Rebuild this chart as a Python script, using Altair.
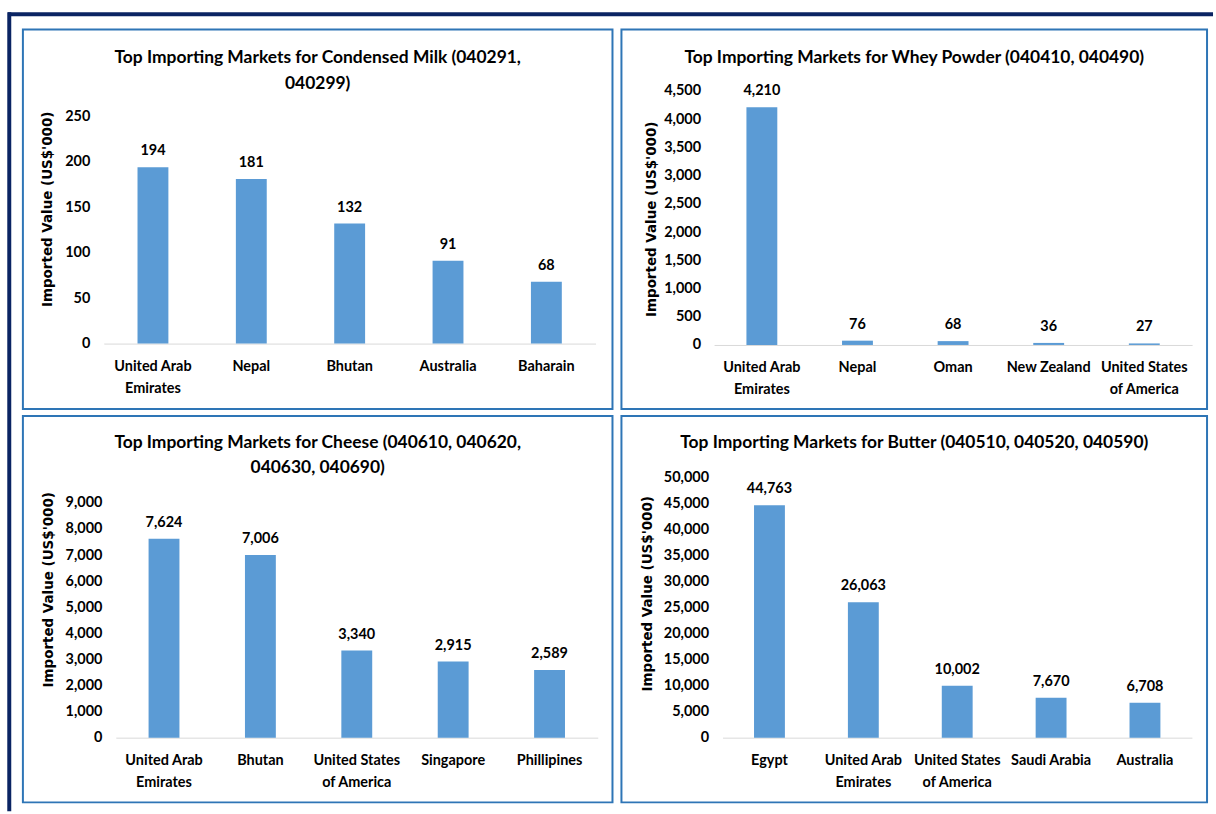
import altair as alt
import pandas as pd

# ---------------- data ----------------
milk_markets = ["United Arab Emirates", "Nepal", "Bhutan", "Australia", "Baharain"]
milk_values = [194, 181, 132, 91, 68]
milk_ticks = [0, 50, 100, 150, 200, 250]

whey_markets = ["United Arab Emirates", "Nepal", "Oman", "New Zealand", "United States of America"]
whey_values = [4210, 76, 68, 36, 27]
whey_ticks = [0, 500, 1000, 1500, 2000, 2500, 3000, 3500, 4000, 4500]

cheese_markets = ["United Arab Emirates", "Bhutan", "United States of America", "Singapore", "Phillipines"]
cheese_values = [7624, 7006, 3340, 2915, 2589]
cheese_ticks = [0, 1000, 2000, 3000, 4000, 5000, 6000, 7000, 8000, 9000]

butter_markets = ["Egypt", "United Arab Emirates", "United States of America", "Saudi Arabia", "Australia"]
butter_values = [44763, 26063, 10002, 7670, 6708]
butter_ticks = [0, 5000, 10000, 15000, 20000, 25000, 30000, 35000, 40000, 45000, 50000]

milk_title = ["Top Importing Markets for Condensed Milk (040291,", "040299)"]
whey_title = ["Top Importing Markets for Whey Powder (040410, 040490)"]
cheese_title = ["Top Importing Markets for Cheese (040610, 040620,", "040630, 040690)"]
butter_title = ["Top Importing Markets for Butter (040510, 040520, 040590)"]

y_title = "Imported Value (US$'000)"

# ---------------- style ----------------
FONT = "Lato"
BAR = "#5B9BD5"
PANEL = "#2E75B6"
NAVY = "#0A2463"

LABEL_EXPR = ("datum.label == 'United Arab Emirates' ? ['United Arab', 'Emirates'] : "
              "datum.label == 'United States of America' ? ['United States', 'of America'] : datum.label")


def panel(markets, values, ticks, title_lines, w, h, xr, yr, lab_right,
          ytx, yty, title_offset, extra=None):
    df = pd.DataFrame({"market": markets, "value": values})
    step = (xr[1] - xr[0]) / len(markets)
    pin = 1 - 31.0 / step
    x = alt.X(
        "market:N", sort=markets,
        scale=alt.Scale(range=xr, paddingInner=pin, paddingOuter=pin / 2),
        axis=alt.Axis(title=None, orient="bottom", offset=-(h - yr[0]), labelAngle=0,
                      ticks=False, tickSize=0, labelPadding=16, labelFont=FONT,
                      labelFontSize=14.5, labelFontWeight="bold", labelColor="black",
                      labelLineHeight=22, labelExpr=LABEL_EXPR, domainColor="#D9D9D9",
                      domainWidth=1, grid=False, labelLimit=300, labelOverlap=False),
    )
    y = alt.Y(
        "value:Q",
        scale=alt.Scale(domain=[ticks[0], ticks[-1]], range=yr, nice=False, zero=True),
        axis=alt.Axis(title=y_title, values=ticks, tickCount=len(ticks) + 5,
                      format=",.0f", orient="left",
                      offset=-lab_right, ticks=False, tickSize=0, labelPadding=0,
                      domain=False, grid=False, labelFont=FONT, labelFontSize=14.5,
                      labelFontWeight="bold", labelColor="black", labelOverlap=False,
                      titleX=ytx - lab_right, titleY=yty, titleAngle=-90,
                      titleFont="DejaVu Sans", titleFontSize=13.5, titleFontWeight="bold",
                      titleColor="black", titleBaseline="middle", titleAlign="center"),
    )
    base = alt.Chart(df)
    bars = base.mark_bar(color=BAR).encode(x=x, y=y)
    labels = base.mark_text(baseline="bottom", dy=-9, font=FONT, fontSize=14.5,
                            fontWeight="bold", color="black").encode(
        x=alt.X("market:N", sort=markets),
        y=alt.Y("value:Q"),
        text=alt.Text("value:Q", format=",.0f"),
    )
    layers = [bars, labels]
    if extra is not None:
        layers += extra
    return alt.layer(*layers).properties(
        width=w, height=h,
        title=alt.TitleParams(text=title_lines, anchor="middle", frame="group",
                              offset=title_offset, font=FONT,
                              fontSize=17.5, fontWeight="bold", color="black",
                              lineHeight=25.5),
    )


# decorative outer frame (drawn relative to the first panel)
frame_data = alt.Data(values=[{"k": 1}])
frame_top = alt.Chart(frame_data).mark_rule(color=NAVY, strokeWidth=4).encode(
    x=alt.value(-15), x2=alt.value(1195), y=alt.value(-15.3))
frame_left = alt.Chart(frame_data).mark_rule(color=NAVY, strokeWidth=4).encode(
    x=alt.value(-13.7), y=alt.value(-17.3), y2=alt.value(785))

p1 = panel(milk_markets, milk_values, milk_ticks, milk_title, 592, 381,
           [81.2, 575], [315.3, 87], 67.2, 24.5, 180, -82,
           extra=[frame_top, frame_left])
p2 = panel(whey_markets, whey_values, whey_ticks, whey_title, 588, 381,
           [93, 573], [316.7, 61.7], 79.5, 30, 190, -37)
p3 = panel(cheese_markets, cheese_values, cheese_ticks, cheese_title, 592, 388,
           [93.3, 577.2], [323, 87.3], 79.4, 26, 174, -61)
p4 = panel(butter_markets, butter_values, butter_ticks, butter_title, 588, 388,
           [101.5, 572.8], [323, 62.3], 87.5, 25.7, 178, -36)

chart = alt.concat(p1, p2, p3, p4, columns=2, spacing={"row": 7, "column": 9},
                   bounds="flush").properties(
    padding={"left": 5, "top": 7, "right": 0, "bottom": 0},
    background="white",
).configure_view(stroke=PANEL, strokeWidth=2)

chart.save("out.html", embed_options={"renderer": "svg", "actions": False})
